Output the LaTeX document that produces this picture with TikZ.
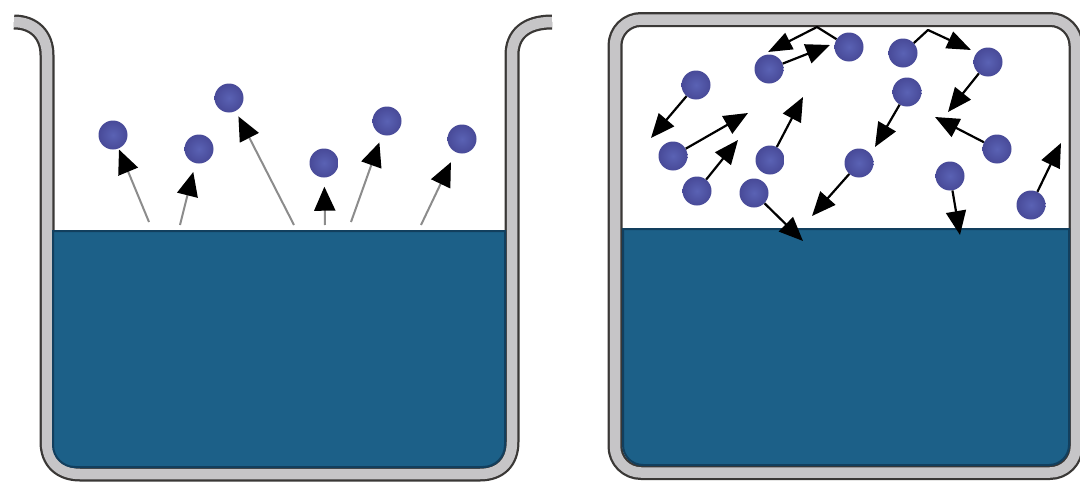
\documentclass[tikz,border=0pt]{standalone}
\usetikzlibrary{arrows.meta}
\definecolor{water}{HTML}{1C6088}
\definecolor{waterline}{HTML}{123F5E}
\definecolor{wallgray}{HTML}{C6C5C7}
\definecolor{walldark}{HTML}{3A3836}
\definecolor{molin}{HTML}{5A62B4}
\definecolor{molout}{HTML}{484A98}
\tikzset{
  wallout/.style={draw=walldark,line width=15pt,line join=round},
  wallin/.style={draw=wallgray,line width=10.5pt,line join=round},
  liquid/.style={fill=water,draw=waterline,line width=2pt},
  mol/.style={circle,minimum size=29pt,inner sep=0pt,shading=radial,inner color=molin,outer color=molout},
  rise/.style={draw=black!45!white,line width=2pt,-{Triangle[black,length=24pt,width=21pt]}},
  hit/.style={draw=black,line width=2.2pt,-{Triangle[black,length=24pt,width=20pt]}},
  pathhit/.style={draw=black,line width=2.2pt,line join=round,-{Triangle[black,length=24pt,width=18pt]}}
}
\begin{document}
\begin{tikzpicture}[x=1pt,y=-1pt]
\useasboundingbox (0,0) rectangle (1080,482);
\fill[white] (0,0) rectangle (1080,482);
% left beaker
\def\leftwall{(14,22) .. controls (34,22) and (47,35) .. (47,55) -- (47,442) .. controls (47,462) and (60,474) .. (80,474) -- (480,474) .. controls (500,474) and (512,462) .. (512,442) -- (512,55) .. controls (512,35) and (525,22) .. (552,22)}
\draw[wallout] \leftwall;
\draw[wallin] \leftwall;
\path[liquid] (53,231) -- (505,231) [rounded corners=22pt] -- (505,467) -- (53,467) [sharp corners] -- cycle;
% right beaker
\draw[wallout,rounded corners=26pt] (615,19.5) rectangle (1076,472.5);
\draw[wallin,rounded corners=26pt] (615,19.5) rectangle (1076,472.5);
\path[liquid] (623,229) -- (1069,229) [rounded corners=20pt] -- (1069,465) -- (623,465) [sharp corners] -- cycle;
% left molecules
\node[mol] (m1) at (113,135) {};
\node[mol] (m2) at (199,149) {};
\node[mol] (m3) at (229,98) {};
\node[mol] (m4) at (324,163) {};
\node[mol] (m5) at (387,121) {};
\node[mol] (m6) at (462,139) {};
\coordinate (s1) at (149,222);
\coordinate (s2) at (180,225);
\coordinate (s3) at (294,225);
\coordinate (s4) at (325,225);
\coordinate (s5) at (351,222);
\coordinate (s6) at (421,225);
\draw[rise,shorten >=1pt] (s1) -- (m1);
\draw[rise,shorten >=9pt] (s2) -- (m2);
\draw[rise,shorten >=6pt] (s3) -- (m3);
\draw[rise,shorten >=9pt] (s4) -- (m4);
\draw[rise,shorten >=8pt] (s5) -- (m5);
\draw[rise,shorten >=11pt] (s6) -- (m6);
% right molecules
\node[mol] (a) at (696,85) {};
\node[mol] (b) at (769,69) {};
\node[mol] (c) at (849,47) {};
\node[mol] (d) at (903,53) {};
\node[mol] (e) at (988,62) {};
\node[mol] (f) at (907,92) {};
\node[mol] (g) at (673,156) {};
\node[mol] (h) at (770,160) {};
\node[mol] (i) at (697,191) {};
\node[mol] (j) at (754,193) {};
\node[mol] (k) at (859,163) {};
\node[mol] (l) at (997,149) {};
\node[mol] (m) at (950,176) {};
\node[mol] (n) at (1031,205) {};
\coordinate (ta) at (651,138);
\coordinate (tg) at (748,113);
\coordinate (ti) at (738,140);
\coordinate (th) at (803,97);
\coordinate (tb) at (830,45);
\coordinate (bc) at (817,27);
\coordinate (tc) at (768,52);
\coordinate (bd) at (928,30);
\coordinate (td) at (971,50);
\coordinate (te) at (948,112);
\coordinate (tf) at (875,147);
\coordinate (tk) at (812,216);
\coordinate (tl) at (935,117);
\coordinate (tm) at (960,235);
\coordinate (tj) at (803,241);
\coordinate (tn) at (1061,143);
\draw[hit] (a) -- (ta);
\draw[hit] (g) -- (tg);
\draw[hit] (i) -- (ti);
\draw[hit] (h) -- (th);
\draw[hit] (b) -- (tb);
\draw[pathhit] (c) -- (bc) -- (tc);
\draw[pathhit] (d) -- (bd) -- (td);
\draw[hit] (e) -- (te);
\draw[hit] (f) -- (tf);
\draw[hit] (k) -- (tk);
\draw[hit] (l) -- (tl);
\draw[hit] (m) -- (tm);
\draw[hit] (j) -- (tj);
\draw[hit] (n) -- (tn);
\end{tikzpicture}
\end{document}
